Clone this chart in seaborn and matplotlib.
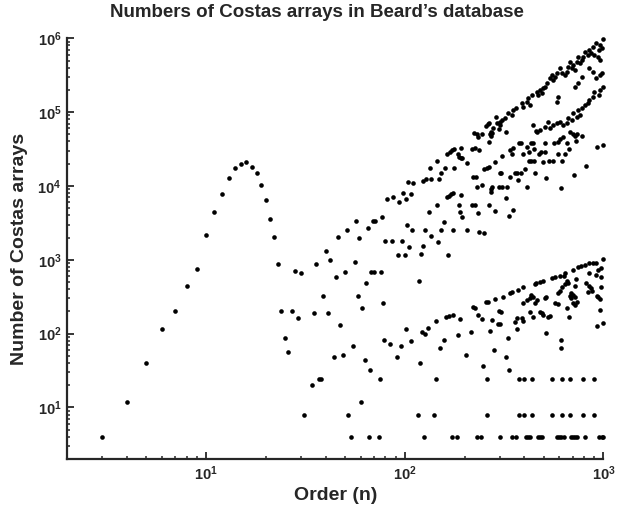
import matplotlib
matplotlib.use('Agg')
import matplotlib.pyplot as plt
import matplotlib.ticker as mticker
import seaborn as sns
import pandas as pd

# exhaustively enumerated orders
orders_enum = [3, 4, 5, 6, 7, 8, 9, 10, 11, 12, 13, 14, 15, 16, 17, 18, 19, 20,
               21, 22, 23, 24, 25, 26, 27, 28, 29]
counts_enum = [4, 12, 40, 116, 200, 444, 760, 2160, 4368, 7852, 12828, 17252,
               19612, 21104, 18276, 15096, 10240, 6464, 3536, 2052, 872, 200,
               88, 56, 204, 712, 164]

# orders that only have 4, 8 or 24 arrays in the database
orders_c4 = [54, 66, 74, 125, 172, 183, 230, 243, 302, 347, 365, 407, 416, 426,
             466, 477, 488, 581, 597, 613, 631, 688, 705, 720, 736, 810, 952,
             979, 1000]
orders_c8 = [31, 52, 116, 141, 259, 378, 397, 437, 553, 621, 680, 792, 896]
orders_c24 = [37, 38, 75, 143, 260, 377, 396, 436, 552, 620, 679, 791, 895]

# lower band (tens to ~1000 arrays)
low_orders = [30, 34, 35, 36, 39, 41, 42, 44, 45, 47, 49, 50, 55, 56, 58, 60,
              61, 63, 64, 67, 68, 70, 76, 78, 79, 84, 92, 93, 96, 100, 102, 108,
              118, 120, 122, 126, 131, 144, 151, 157, 162, 165, 168, 174, 185,
              190, 204, 216, 221, 227, 233, 246, 248, 256, 263, 269, 276, 282,
              285, 296, 297, 303, 305, 311, 322, 329, 334, 339, 348, 358, 366,
              368, 372, 387, 393, 394, 395, 412, 427, 428, 434, 442, 443, 452,
              453, 460, 461, 479, 480, 489, 496, 498, 508, 513, 515, 527, 538,
              548, 569, 570, 592, 593, 604, 605, 609, 610, 616, 630, 637, 640,
              652, 653, 665, 673, 678, 686, 687, 700, 703, 704, 718, 719, 722,
              727, 733, 744, 773, 809, 815, 832, 847, 848, 849, 865, 875, 881,
              917, 922, 923, 924, 935, 937, 959, 960, 970, 971, 972, 990, 998]
low_counts = [670, 20, 190, 880, 320, 190, 1000, 48, 580, 130, 52, 680, 68, 930,
              320, 12, 220, 44, 480, 32, 680, 680, 680, 260, 83, 72, 48, 1160,
              68, 1160, 116, 80, 510, 40, 104, 99, 120, 150, 64, 83, 170, 1160,
              173, 180, 96, 156, 52, 104, 230, 220, 176, 159, 36, 265, 270, 110,
              151, 60, 290, 136, 200, 134, 197, 315, 48, 88, 32, 350, 368, 144,
              161, 115, 388, 161, 423, 261, 147, 284, 300, 197, 332, 315, 169,
              469, 256, 479, 284, 494, 197, 188, 514, 178, 300, 101, 315, 169,
              174, 560, 588, 256, 350, 251, 601, 380, 82, 63, 423, 601, 654,
              469, 519, 220, 479, 169, 322, 300, 350, 725, 332, 256, 315, 444,
              243, 542, 270, 804, 821, 847, 479, 368, 893, 654, 444, 410, 380,
              910, 893, 620, 322, 126, 725, 310, 296, 208, 765, 588, 431, 1022,
              137]

# middle region (thousands to ~100k arrays)
mid_orders = [40, 46, 51, 57, 59, 65, 69, 71, 77, 80, 81, 86, 87, 94, 97, 98,
              101, 103, 104, 105, 107, 109, 110, 121, 123, 124, 127, 128, 133,
              134, 135, 136, 145, 146, 147, 148, 152, 153, 158, 160, 163, 164,
              167, 169, 171, 173, 175, 176, 177, 178, 186, 187, 188, 189, 191,
              192, 193, 194, 195, 205, 206, 218, 219, 220, 224, 225, 226, 228,
              231, 232, 234, 235, 236, 237, 244, 245, 250, 252, 255, 258, 262,
              264, 265, 266, 267, 270, 271, 272, 273, 274, 275, 283, 286, 287,
              298, 299, 300, 301, 304, 308, 309, 323, 324, 328, 335, 338, 340,
              345, 349, 351, 359, 367, 371, 376, 384, 386, 392, 401, 410, 411,
              422, 423, 432, 433, 440, 446, 447, 451, 457, 475, 487, 497, 506,
              507, 514, 531, 558, 563, 588, 591, 603, 608, 618, 623, 641, 655,
              672, 677, 699, 710, 721, 726, 732, 782, 813, 925, 997]
mid_counts = [1300, 2050, 2500, 3300, 1950, 2700, 3400, 3400, 3800, 1800, 6600,
              1800, 7100, 6100, 1800, 8100, 6600, 2950, 11200, 1500, 7800, 2500,
              11000, 1200, 1520, 11500, 2500, 12500, 4400, 17500, 12300, 2100,
              5500, 21500, 1750, 12300, 2500, 15100, 3200, 17650, 27300, 7100,
              7400, 29000, 7700, 30600, 8100, 2500, 31600, 17500, 27000, 5500,
              24600, 4400, 33000, 7500, 23700, 3830, 24000, 2500, 20200, 5500,
              32000, 13200, 52000, 5500, 33000, 13200, 50500, 9750, 45500, 4335,
              30650, 2400, 50500, 10380, 2300, 17100, 65400, 17650, 70000, 18200,
              71100, 39000, 5500, 50500, 47400, 9000, 8180, 9750, 52600, 4600,
              21300, 85000, 59000, 9750, 14820, 74100, 15100, 9660, 25180, 53240,
              6790, 9660, 3870, 30650, 13200, 26800, 32930, 4670, 14960, 14960,
              12030, 37760, 38700, 15100, 26800, 17100, 33350, 9660, 21540,
              29070, 37760, 21540, 38700, 21540, 31900, 14820, 55500, 27300,
              29040, 20880, 29040, 37760, 12900, 21540, 21540, 37760, 26800,
              39700, 42760, 9270, 21540, 46420, 26800, 37760, 31900, 54200,
              50500, 14050, 47860, 41000, 50500, 47860, 18600, 33350, 36140]

# upper bands (up to ~n^2 arrays)
top_orders = [996, 960, 979, 944, 917, 881, 848, 865, 832, 898, 940, 962, 807,
              791, 777, 747, 761, 733, 705, 692, 719, 678, 665, 653, 640, 616,
              604, 581, 570, 559, 548, 538, 518, 507, 497, 479, 488, 469, 461,
              435, 418, 410, 426, 394, 387, 365, 351, 345, 331, 319, 307, 300,
              290, 278, 273,
              998, 960, 944, 898, 881, 848, 832, 807, 777, 747, 761, 733, 705,
              692, 665, 653, 623, 604, 581, 559, 538, 527, 507, 479, 461, 443,
              848, 881, 917, 960, 979, 747, 719, 777, 581, 592]
top_counts = [990000, 811000, 732000, 694000, 855000, 769000, 694000, 627000,
              594000, 594000, 563000, 508000, 658000, 563000, 508000, 563000,
              458000, 482000, 435000, 392000, 372000, 482000, 412000, 353000,
              318000, 335000, 392000, 335000, 302000, 272000, 318000, 287000,
              245000, 221000, 210000, 199000, 180000, 170000, 189000, 170000,
              154000, 138000, 125000, 118000, 131000, 113000, 107000, 91400,
              96400, 82500, 78200, 66900, 70500, 60300, 54200,
              221000, 199000, 170000, 189000, 162000, 146000, 131000, 125000,
              113000, 107000, 91400, 86700, 96400, 78200, 82500, 70500, 66900,
              74100, 70500, 66900, 60300, 74100, 63400, 57200, 54200, 66900,
              392000, 353000, 287000, 318000, 335000, 245000, 221000, 302000,
              138000, 162000]

df = pd.DataFrame({
    'order': (orders_enum + orders_c4 + orders_c8 + orders_c24 + low_orders
              + mid_orders + top_orders),
    'count': (counts_enum + [4] * len(orders_c4) + [8] * len(orders_c8)
              + [24] * len(orders_c24) + low_counts + mid_counts + top_counts),
})

sns.set_style('ticks')
plt.rcParams['font.family'] = ['Liberation Sans', 'DejaVu Sans']
plt.rcParams['font.weight'] = 'bold'
plt.rcParams['mathtext.fontset'] = 'custom'
plt.rcParams['mathtext.rm'] = 'Liberation Sans:bold'
plt.rcParams['mathtext.bf'] = 'Liberation Sans:bold'
plt.rcParams['mathtext.default'] = 'bf'

fig = plt.figure(figsize=(6.3, 5.12), dpi=100)
ax = fig.add_axes([0.1063, 0.1035, 0.8516, 0.8217])

sns.scatterplot(data=df, x='order', y='count', ax=ax, color='black', s=11,
                linewidth=0, legend=False, clip_on=False, zorder=3)

ax.set_xscale('log')
ax.set_yscale('log')
ax.set_xlim(2, 1000)
ax.set_ylim(2, 1e6)
ax.xaxis.set_major_formatter(mticker.LogFormatterSciNotation())
ax.yaxis.set_major_formatter(mticker.LogFormatterSciNotation())
ax.xaxis.set_minor_formatter(mticker.NullFormatter())
ax.yaxis.set_minor_formatter(mticker.NullFormatter())

for side in ['top', 'right']:
    ax.spines[side].set_visible(False)
for side in ['left', 'bottom']:
    ax.spines[side].set_linewidth(1.6)
ax.tick_params(which='major', direction='in', length=5, width=1.3,
               labelsize=10.5, pad=4)
ax.tick_params(which='minor', direction='in', length=2.5, width=1.1)

ax.set_xlabel('Order (n)', fontsize=14, fontweight='bold')
ax.set_ylabel('Number of Costas arrays', fontsize=14, fontweight='bold')
ax.xaxis.set_label_coords(0.5, -0.086)
ax.xaxis.label.set_va('center')
ax.yaxis.set_label_coords(-0.088, 0.5)
ax.yaxis.label.set_va('center')

fig.text(0.503, 0.976, 'Numbers of Costas arrays in Beard\u2019s database',
         ha='center', va='center', fontsize=13.5, fontweight='bold')

fig.savefig('out.png', dpi=100)
